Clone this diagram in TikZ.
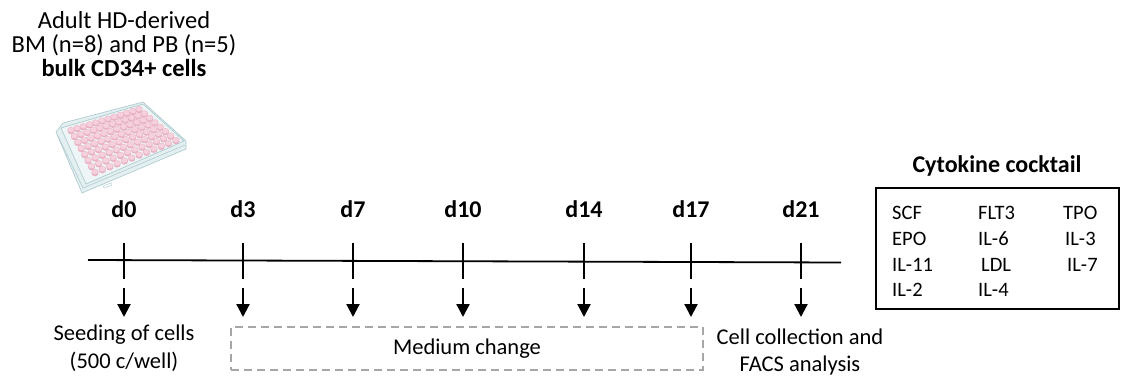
\documentclass[tikz,border=0pt]{standalone}
\usepackage{fontspec}
\setmainfont{Carlito}
\usetikzlibrary{arrows.meta,positioning,calc}
\definecolor{dashgray}{HTML}{A6A6A6}
\definecolor{platefill}{HTML}{E3EFF0}
\definecolor{platetop}{HTML}{EDF5F6}
\definecolor{plateline}{HTML}{A9C7CC}
\definecolor{wellfill}{HTML}{F6D0DC}
\definecolor{wellside}{HTML}{E8AFC2}

\begin{document}
\begin{tikzpicture}[x=1pt,y=-1pt,>={Triangle[width=13pt,length=13pt]},
  daylabel/.style={font=\fontsize{24}{29}\selectfont\bfseries,anchor=base,inner sep=0pt},
  bodytext/.style={font=\fontsize{22.5}{27.5}\selectfont,align=center},
  cytoname/.style={font=\fontsize{20.5}{25}\selectfont,anchor=base west,inner sep=0pt},
  well/.style={fill=wellfill,draw=wellside,line width=0.3pt}]
\useasboundingbox (0,0) rectangle (1121,378);

\node[font=\fontsize{24.5}{24}\selectfont,align=center] (source) at (124,44)
  {Adult HD-derived\\BM (n=8) and PB (n=5)\\\textbf{bulk CD34+ cells}};

% 96-well plate, drawn in perspective
\draw[plateline,fill=platefill,line width=0.6pt]
  (56,132) -- (63,123) -- (143,102) -- (186,141) -- (186,149) -- (82,193) -- cycle;
\draw[plateline,fill=platetop,line width=0.6pt]
  (61,128) -- (143,104) -- (184,141) -- (86,184) -- cycle;
\draw[plateline,line width=0.5pt] (58,136) -- (83,188) -- (185,145);
\draw[plateline,fill=white,line width=0.4pt] (103,186) -- (111,183) -- (112,185) -- (104,188) -- cycle;
\coordinate (c00) at (71,130);
\coordinate (c10) at (139,109);
\coordinate (c01) at (95,172);
\coordinate (c11) at (176,140);
\foreach \i in {0,...,11}{
  \foreach \j in {0,...,7}{
    \pgfmathsetmacro{\u}{\i/11}
    \pgfmathsetmacro{\v}{\j/7}
    \fill[wellside] ($($(c00)!\u!(c10)$)!\v!($(c01)!\u!(c11)$)+(0,1.4)$) ellipse (3.4pt and 2.8pt);
    \path[well] ($($(c00)!\u!(c10)$)!\v!($(c01)!\u!(c11)$)$) ellipse (3.4pt and 2.8pt);
  }
}

% time line with the sampling days
\coordinate (tstart) at (88,260);
\coordinate (tend) at (841,262.5);
\draw[line width=1.8pt] (tstart) -- (tend);
\foreach \d/\x in {0/124,3/243,7/353,10/463,14/584,17/691,21/801}{
  \node[daylabel] (d\d) at (\x,217) {d\d};
  \draw[line width=1.8pt] (\x,243) -- (\x,279);
  \coordinate (from\d) at (\x,288);
  \coordinate (to\d) at (\x,317);
  \draw[->,line width=2.2pt] (from\d) -- (to\d);
}

\node[bodytext] (seeding) at (124,348) {Seeding of cells\\(500 c/well)};
\node[bodytext,draw=dashgray,dashed,dash pattern=on 8pt off 5pt,line width=1.5pt,
  minimum width=472pt,minimum height=43pt] (medium) at (467,348.5) {Medium change};
\node[bodytext] (collection) at (800,352) {Cell collection and\\FACS analysis};

% cytokine cocktail
\node[font=\fontsize{24}{29}\selectfont\bfseries] (cocktail) at (997,166) {Cytokine cocktail};
\draw[line width=1.5pt] (876,188) rectangle (1119,309);
\foreach \name/\x/\y in {SCF/892/219,FLT3/978/219,TPO/1063/219,
    EPO/892/245,IL-6/978/245,IL-3/1065/245,
    IL-11/892/271,LDL/981/271,IL-7/1067/271,
    IL-2/892/296,IL-4/978/296}{
  \node[cytoname] (cy-\name) at (\x,\y) {\name};
}
\end{tikzpicture}
\end{document}
